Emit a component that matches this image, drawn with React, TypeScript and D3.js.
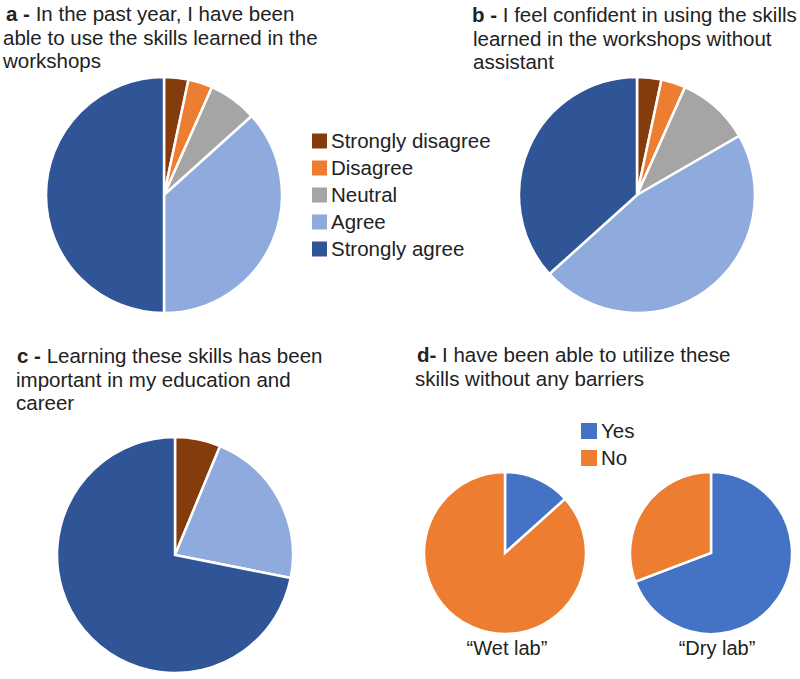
import React from "react";
import * as d3 from "d3";

const likertLabels = ["Strongly disagree", "Disagree", "Neutral", "Agree", "Strongly agree"];
const likertColors = ["#843C0C", "#ED7D31", "#A5A5A5", "#8FAADC", "#2F5597"];

const panelA = [1, 1, 2, 11, 15];
const panelB = [1, 1, 3, 14, 11];
const panelC = [2, 0, 0, 7, 23];

const labLabels = ["Yes", "No"];
const labColors = ["#4472C4", "#ED7D31"];
const wetLab = [2, 13];
const dryLab = [9, 4];

const titleA = ["In the past year, I have been", "able to use the skills learned in the", "workshops"];
const titleB = ["I feel confident in using the skills", "learned in the workshops without", "assistant"];
const titleC = ["Learning these skills has been", "important in my education and", "career"];
const titleD = ["I have been able to utilize these", "skills without any barriers"];

const FONT = "'Liberation Sans', Arial, sans-serif";

type PieProps = { values: number[]; colors: string[]; cx: number; cy: number; r: number };

function Pie({ values, colors, cx, cy, r }: PieProps) {
  const items = values.map((v, i) => ({ v, color: colors[i] })).filter((d) => d.v > 0);
  const arcs = d3.pie<{ v: number; color: string }>().sort(null).value((d) => d.v)(items);
  const arc = d3.arc<d3.PieArcDatum<{ v: number; color: string }>>().innerRadius(0).outerRadius(r);
  return (
    <g transform={`translate(${cx},${cy})`}>
      {arcs.map((a, i) => (
        <path key={i} d={arc(a) || ""} fill={a.data.color} stroke="#fff" strokeWidth={2.5} strokeLinejoin="miter" />
      ))}
    </g>
  );
}

function Title({ x, y, tag, lines, indent }: { x: number; y: number; tag: string; lines: string[]; indent: number }) {
  return (
    <text x={x} y={y} fontFamily={FONT} fontSize={20.5} fill="#222">
      {lines.map((l, i) => (
        <tspan key={i} x={i === 0 ? x : x + indent} dy={i === 0 ? 0 : 23.5}>
          {i === 0 && <tspan fontWeight="bold">{tag} </tspan>}
          {l}
        </tspan>
      ))}
    </text>
  );
}

function Legend({ x, y, labels, colors, step, size }: { x: number; y: number; labels: string[]; colors: string[]; step: number; size: number }) {
  return (
    <g transform={`translate(${x},${y})`}>
      {labels.map((l, i) => (
        <g key={l} transform={`translate(0,${i * step})`}>
          <rect x={0} y={-size / 2} width={size} height={size} fill={colors[i]} />
          <text x={size + 4} y={7} fontFamily={FONT} fontSize={20.5} fill="#222">
            {l}
          </text>
        </g>
      ))}
    </g>
  );
}

export default function App() {
  return (
    <div style={{ position: "absolute", left: 0, top: 0 }}>
      <svg width={800} height={679} style={{ display: "block", background: "#fff" }}>
        <Title x={6} y={21} tag="a -" lines={titleA} indent={-3} />
        <Title x={472} y={22} tag="b -" lines={titleB} indent={1} />
        <Title x={17} y={363} tag="c -" lines={titleC} indent={-1} />
        <Title x={417} y={362} tag="d-" lines={titleD} indent={-2} />

        <Pie values={panelA} colors={likertColors} cx={164} cy={195} r={118} />
        <Pie values={panelB} colors={likertColors} cx={637} cy={195} r={118} />
        <Pie values={panelC} colors={likertColors} cx={175} cy={555} r={118} />
        <Pie values={wetLab} colors={labColors} cx={505} cy={553} r={81} />
        <Pie values={dryLab} colors={labColors} cx={711} cy={553} r={81} />

        <Legend x={312} y={141} labels={likertLabels} colors={likertColors} step={27} size={15} />
        <Legend x={581} y={431} labels={labLabels} colors={labColors} step={27} size={16} />

        <text x={507} y={655} textAnchor="middle" fontFamily="'Liberation Sans Narrow', 'Liberation Sans', sans-serif" fontSize={20} fill="#222">
          “Wet lab”
        </text>
        <text x={717} y={655} textAnchor="middle" fontFamily="'Liberation Sans Narrow', 'Liberation Sans', sans-serif" fontSize={20} fill="#222">
          “Dry lab”
        </text>
      </svg>
    </div>
  );
}
